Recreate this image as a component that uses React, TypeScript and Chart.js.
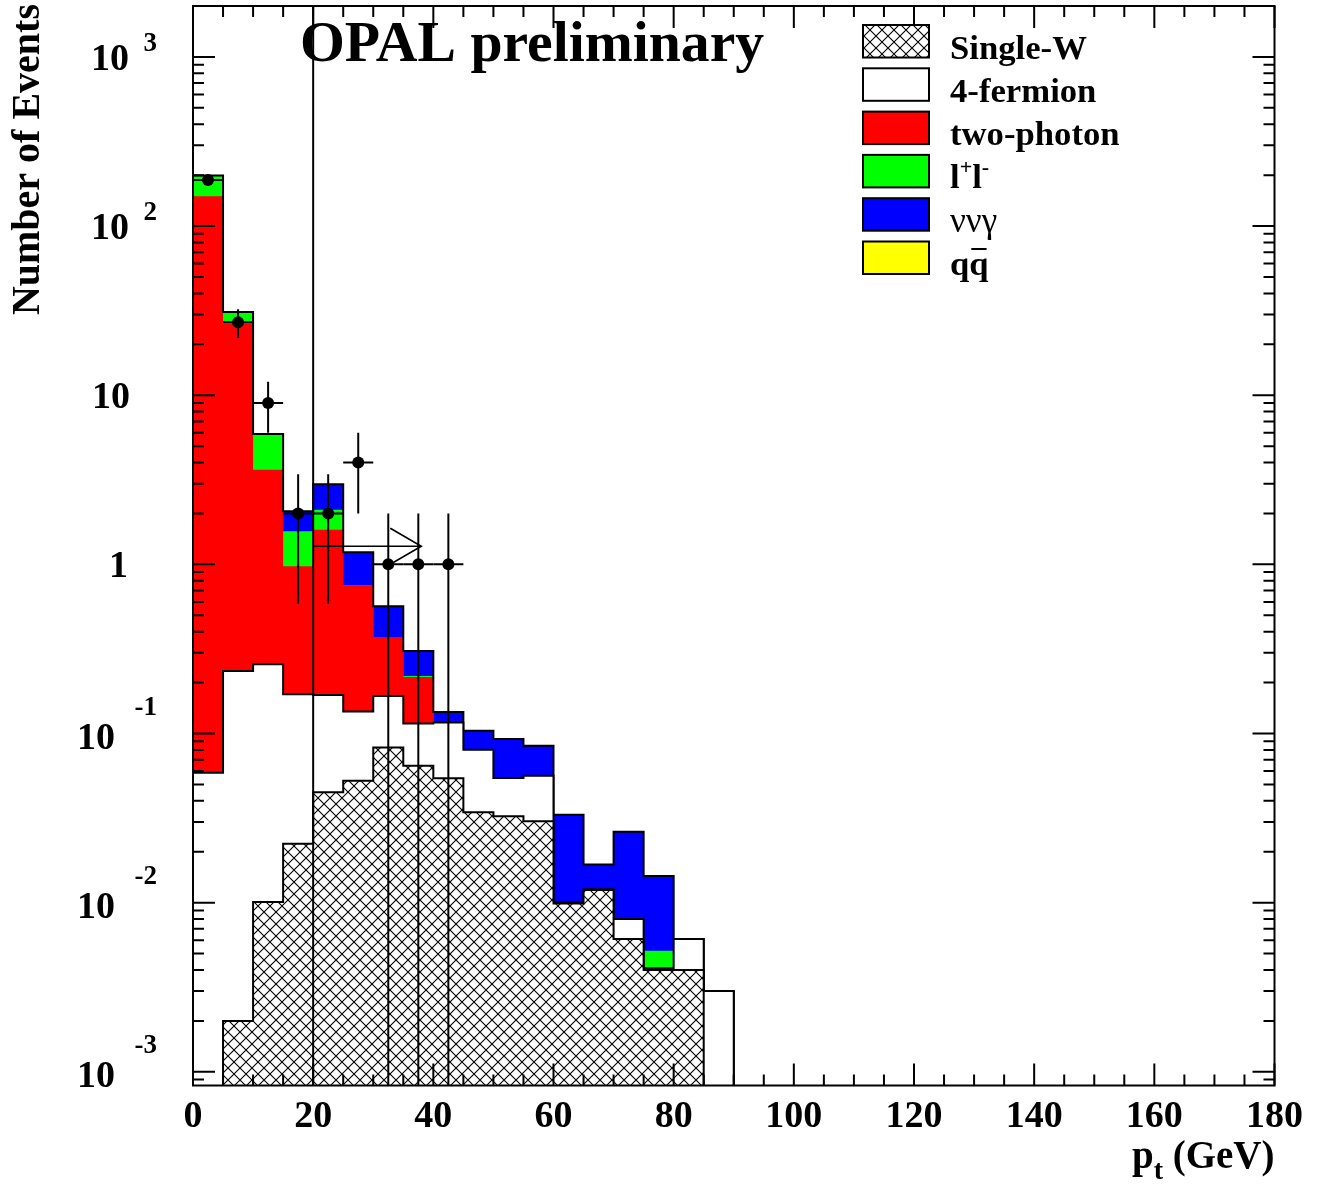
import React, { useEffect, useRef } from "react";
import { Chart, registerables } from "chart.js";

Chart.register(...registerables);

// 5 GeV bins between 0 and 90 GeV
const binEdges = [0, 5, 10, 15, 20, 25, 30, 35, 40, 45, 50, 55, 60, 65, 70, 75, 80, 85, 90];

// Expected events per bin, one array per simulated sample
const singleW = [0, 0.002, 0.0101, 0.0223, 0.0449, 0.0526, 0.0827, 0.0645, 0.0543, 0.0342, 0.0324, 0.0303, 0.0099, 0.0119, 0.0061, 0.004, 0.004, 0];
const fourFermion = [0.0587, 0.2323, 0.2465, 0.1484, 0.1242, 0.0822, 0.0841, 0.0501, 0.0618, 0.0459, 0.0222, 0.026, 0.0002, 0.0001, 0.0019, 0.0001, 0.0021, 0.003];
const twoPhoton = [150.0, 26.27, 3.365, 0.804, 1.435, 0.615, 0.205, 0.101, 0, 0, 0, 0, 0, 0, 0, 0, 0, 0];
const dilepton = [48.7, 4.57, 2.204, 0.594, 0.5, 0, 0, 0.003, 0, 0, 0, 0, 0, 0, 0, 0.0011, 0, 0];
const nunuGamma = [0, 0, 0.08, 0.489, 0.876, 0.428, 0.1945, 0.0884, 0.0181, 0.0236, 0.0381, 0.0283, 0.023, 0.0048, 0.0183, 0.0092, 0, 0];
const qqbar = [0, 0, 0, 0, 0, 0, 0, 0, 0, 0, 0, 0, 0, 0, 0, 0, 0, 0];

// Observed events in the first bins
const dataCounts = [187, 27, 9, 2, 2, 4, 1, 1, 1];

// Axis ranges and labels
const xMin = 0;
const xMax = 180;
const yMin = 0.00083;
const yMax = 2000;
const xTickLabels = [0, 20, 40, 60, 80, 100, 120, 140, 160, 180];
const yDecades = [-3, -2, -1, 0, 1, 2, 3];

// Selection cut drawn as a line with an arrow
const cutValue = 20;
const arrowEnd = 38;
const arrowLevel = 1.28;

const titleText = "OPAL preliminary";
const xTitle = ["p", "t", " (GeV)"];
const yTitle = "Number of Events";

const SERIF = "'Liberation Serif', 'Times New Roman', serif";
const FLOOR = 1e-7;

function cumulate(layers: number[][]): number[][] {
  const out: number[][] = [];
  layers.forEach((layer, k) => {
    out.push(layer.map((v, i) => v + (k > 0 ? out[k - 1][i] : 0)));
  });
  return out;
}

function stepPoints(values: number[]) {
  const pts: { x: number; y: number }[] = [{ x: binEdges[0], y: FLOOR }];
  values.forEach((v, i) => pts.push({ x: binEdges[i], y: v > 1e-9 ? v : FLOOR }));
  pts.push({ x: binEdges[values.length], y: FLOOR });
  return pts;
}

function makeHatch(ctx: CanvasRenderingContext2D): CanvasPattern | string {
  const c = document.createElement("canvas");
  c.width = 12;
  c.height = 12;
  const g = c.getContext("2d");
  if (!g) return "#fff";
  g.fillStyle = "#ffffff";
  g.fillRect(0, 0, 12, 12);
  g.strokeStyle = "#000000";
  g.lineWidth = 1.1;
  g.beginPath();
  g.moveTo(-1, -1);
  g.lineTo(13, 13);
  g.moveTo(-1, 13);
  g.lineTo(13, -1);
  g.stroke();
  return ctx.createPattern(c, "repeat") || "#fff";
}

export default function App() {
  const canvasRef = useRef<HTMLCanvasElement | null>(null);

  useEffect(() => {
    const canvas = canvasRef.current;
    if (!canvas) return;
    const ctx0 = canvas.getContext("2d");
    if (!ctx0) return;
    const hatch = makeHatch(ctx0);

    const [cSW, cFF, cGG, cLL, cNN, cQQ] = cumulate([singleW, fourFermion, twoPhoton, dilepton, nunuGamma, qqbar]);

    const legendEntries = [
      { label: "Single-W", fill: hatch as any },
      { label: "4-fermion", fill: "#ffffff" },
      { label: "two-photon", fill: "#ff0000" },
      { label: "l+l-", fill: "#00ff00" },
      { label: "ννγ", fill: "#0000ff" },
      { label: "qq", fill: "#ffff00" },
    ];

    const decor = {
      id: "opalDecor",
      afterDatasetsDraw(chart: any) {
        const ctx: CanvasRenderingContext2D = chart.ctx;
        const xs = chart.scales.x;
        const ys = chart.scales.y;
        const a = chart.chartArea;
        ctx.save();
        ctx.beginPath();
        ctx.rect(a.left, a.top, a.right - a.left, a.bottom - a.top);
        ctx.clip();
        ctx.strokeStyle = "#000";
        ctx.lineWidth = 2;
        // error bars of the observed points
        dataCounts.forEach((n, i) => {
          const cx = xs.getPixelForValue((binEdges[i] + binEdges[i + 1]) / 2);
          const err = Math.sqrt(n);
          const hi = ys.getPixelForValue(n + err);
          const lo = n - err > yMin ? ys.getPixelForValue(n - err) : a.bottom;
          const yc = ys.getPixelForValue(n);
          ctx.beginPath();
          ctx.moveTo(cx, hi);
          ctx.lineTo(cx, lo);
          ctx.moveTo(xs.getPixelForValue(binEdges[i]), yc);
          ctx.lineTo(xs.getPixelForValue(binEdges[i + 1]), yc);
          ctx.stroke();
        });
        // cut line and arrow
        const xc = xs.getPixelForValue(cutValue);
        ctx.beginPath();
        ctx.moveTo(xc, a.top);
        ctx.lineTo(xc, a.bottom);
        ctx.stroke();
        const ya = ys.getPixelForValue(arrowLevel);
        const xe = xs.getPixelForValue(arrowEnd);
        ctx.lineWidth = 1.6;
        ctx.beginPath();
        ctx.moveTo(xc, ya);
        ctx.lineTo(xe, ya);
        ctx.moveTo(xe - 31, ya - 18);
        ctx.lineTo(xe, ya);
        ctx.lineTo(xe - 31, ya + 18);
        ctx.stroke();
        ctx.restore();
      },
      afterDraw(chart: any) {
        const ctx: CanvasRenderingContext2D = chart.ctx;
        const xs = chart.scales.x;
        const ys = chart.scales.y;
        const a = chart.chartArea;
        ctx.save();
        ctx.strokeStyle = "#000";
        ctx.fillStyle = "#000";
        ctx.lineWidth = 2;
        // frame
        ctx.strokeRect(a.left, a.top, a.right - a.left, a.bottom - a.top);
        // x ticks on bottom and top
        ctx.beginPath();
        for (let v = xMin; v <= xMax; v += 5) {
          const px = xs.getPixelForValue(v);
          const len = v % 20 === 0 ? 22 : 11;
          ctx.moveTo(px, a.bottom);
          ctx.lineTo(px, a.bottom - len);
          ctx.moveTo(px, a.top);
          ctx.lineTo(px, a.top + len);
        }
        // y ticks on left and right
        for (let d = -4; d <= 3; d++) {
          for (let m = 1; m <= 9; m++) {
            const v = m * Math.pow(10, d);
            if (v < yMin || v > yMax) continue;
            const py = ys.getPixelForValue(v);
            const len = m === 1 ? 22 : 11;
            ctx.moveTo(a.left, py);
            ctx.lineTo(a.left + len, py);
            ctx.moveTo(a.right, py);
            ctx.lineTo(a.right - len, py);
          }
        }
        ctx.stroke();

        // x tick labels
        ctx.font = `bold 38px ${SERIF}`;
        ctx.textAlign = "center";
        ctx.textBaseline = "alphabetic";
        xTickLabels.forEach((v) => {
          ctx.fillText(String(v), xs.getPixelForValue(v), a.bottom + 41.5);
        });

        // y tick labels, powers of ten
        yDecades.forEach((e) => {
          const py = ys.getPixelForValue(Math.pow(10, e));
          ctx.textAlign = "right";
          ctx.font = `bold 38px ${SERIF}`;
          if (e === 0) {
            ctx.fillText("1", 128, py + 13);
          } else if (e === 1) {
            ctx.fillText("10", 130, py + 13);
          } else if (e > 1) {
            ctx.fillText("10", 129, py + 13);
            ctx.font = `bold 27px ${SERIF}`;
            ctx.fillText(String(e), 157, py - 6);
          } else {
            ctx.fillText("10", 115, py + 15);
            ctx.font = `bold 27px ${SERIF}`;
            ctx.fillText("-" + String(-e), 157, py - 19);
          }
        });

        // x axis title, right aligned
        ctx.textAlign = "left";
        ctx.font = `bold 39px ${SERIF}`;
        const wP = ctx.measureText(xTitle[0]).width;
        const wRest = ctx.measureText(xTitle[2]).width;
        ctx.font = `bold 28px ${SERIF}`;
        const wT = ctx.measureText(xTitle[1]).width;
        let tx = a.right - (wP + wT + wRest);
        ctx.font = `bold 39px ${SERIF}`;
        ctx.fillText(xTitle[0], tx, 1168);
        tx += wP;
        ctx.font = `bold 28px ${SERIF}`;
        ctx.fillText(xTitle[1], tx, 1179);
        tx += wT;
        ctx.font = `bold 39px ${SERIF}`;
        ctx.fillText(xTitle[2], tx, 1168);

        // y axis title
        ctx.save();
        ctx.translate(39, 4);
        ctx.rotate(-Math.PI / 2);
        ctx.textAlign = "right";
        ctx.font = `bold 40px ${SERIF}`;
        ctx.fillText(yTitle, 0, 0);
        ctx.restore();

        // plot title
        ctx.textAlign = "left";
        ctx.font = `bold 57.7px ${SERIF}`;
        ctx.fillText(titleText, 300, 61);

        // legend
        const bx = 863;
        const bw = 66;
        const bh = 32.5;
        legendEntries.forEach((entry, i) => {
          const by = 25 + i * 43.3;
          ctx.fillStyle = entry.fill;
          ctx.fillRect(bx, by, bw, bh);
          ctx.lineWidth = 2;
          ctx.strokeStyle = "#000";
          ctx.strokeRect(bx, by, bw, bh);
          ctx.fillStyle = "#000";
          const base = by + 33.5;
          const tx0 = 950;
          ctx.textAlign = "left";
          if (entry.label === "l+l-") {
            ctx.font = `bold 34.7px ${SERIF}`;
            let x = tx0;
            ctx.fillText("l", x, base);
            x += ctx.measureText("l").width;
            ctx.font = `bold 22px ${SERIF}`;
            ctx.fillText("+", x, base - 14);
            x += ctx.measureText("+").width;
            ctx.font = `bold 34.7px ${SERIF}`;
            ctx.fillText("l", x, base);
            x += ctx.measureText("l").width;
            ctx.font = `bold 22px ${SERIF}`;
            ctx.fillText("-", x, base - 14);
          } else if (entry.label === "ννγ") {
            ctx.font = `35px ${SERIF}`;
            ctx.fillText(entry.label, tx0, base);
          } else if (entry.label === "qq") {
            ctx.font = `bold 34.7px ${SERIF}`;
            ctx.fillText("qq", tx0, base);
            const w1 = ctx.measureText("q").width;
            ctx.lineWidth = 2;
            ctx.beginPath();
            ctx.moveTo(tx0 + w1 + 2, base - 26);
            ctx.lineTo(tx0 + 2 * w1 - 2, base - 26);
            ctx.stroke();
          } else {
            ctx.font = `bold 34.7px ${SERIF}`;
            ctx.fillText(entry.label, tx0, base);
          }
        });
        ctx.restore();
      },
    };

    const hist = (values: number[], color: any, border: string, width: number, fill: any) => ({
      type: "line" as const,
      data: stepPoints(values),
      stepped: "before" as const,
      backgroundColor: color,
      borderColor: border,
      borderWidth: width,
      pointRadius: 0,
      fill,
    });

    const centers = dataCounts.map((_, i) => (binEdges[i] + binEdges[i + 1]) / 2);

    const chart = new Chart(canvas, {
      type: "line",
      data: {
        datasets: [
          {
            label: "Data",
            data: dataCounts.map((n, i) => ({ x: centers[i], y: n })),
            showLine: false,
            pointRadius: 6,
            pointBackgroundColor: "#000",
            pointBorderColor: "#000",
            pointBorderWidth: 0,
            borderWidth: 0,
          } as any,
          { label: "Single-W", ...hist(cSW, hatch, "#000", 2, "start") },
          { label: "4-fermion", ...hist(cFF, "#ffffff", "#000", 2, "start") },
          { label: "qq", ...hist(cQQ, "#ffff00", "#000", 2, 6) },
          { label: "two-photon", ...hist(cGG, "#ff0000", "#ff0000", 0, "start") },
          { label: "l+l-", ...hist(cLL, "#00ff00", "#00ff00", 0, "start") },
          { label: "nunugamma", ...hist(cNN, "#0000ff", "#0000ff", 0, "start") },
        ],
      },
      options: {
        animation: false,
        responsive: false,
        devicePixelRatio: 1,
        layout: { padding: { left: 193, top: 3.3, right: 53.5, bottom: 99.5 } },
        scales: {
          x: { type: "linear", min: xMin, max: xMax, display: false },
          y: { type: "logarithmic", min: yMin, max: yMax, display: false },
        },
        plugins: {
          legend: { display: false },
          tooltip: { enabled: false },
          filler: { propagate: false },
        },
        elements: { line: { tension: 0 } },
      },
      plugins: [decor],
    });

    return () => chart.destroy();
  }, []);

  return (
    <div style={{ position: "absolute", left: 0, top: 0, width: 1328, height: 1185, background: "#fff" }}>
      <canvas ref={canvasRef} width={1328} height={1185} style={{ display: "block" }} />
    </div>
  );
}
